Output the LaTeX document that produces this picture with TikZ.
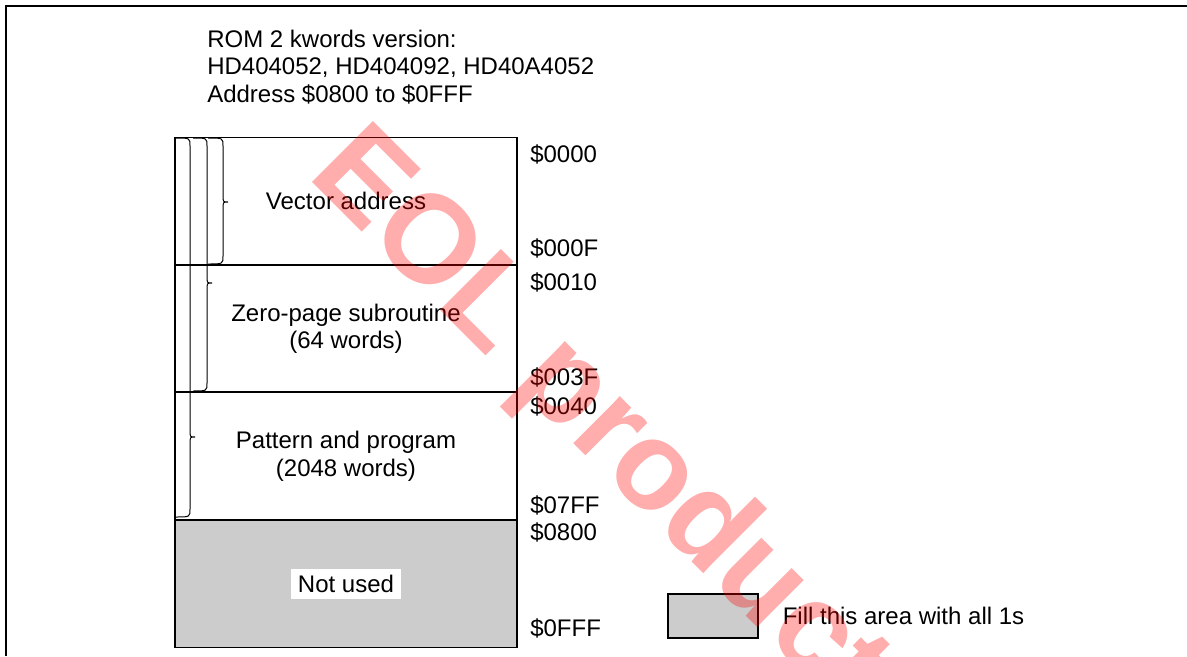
\documentclass[tikz,border=0pt]{standalone}
\usepackage{fontspec}
\setmainfont{Liberation Sans}
\usepackage{tikz}
\usetikzlibrary{positioning}
\definecolor{unused}{RGB}{204,204,204}
\definecolor{eol}{RGB}{255,0,0}

\begin{document}
\begin{tikzpicture}[x=0.75pt,y=-0.75pt,every node/.style={font=\fontsize{18}{20.5}\selectfont,inner sep=0pt},
  sect/.style={draw,line width=0.8pt,minimum width=256.5pt,minimum height=94.9pt,align=center},
  addr/.style={anchor=west},
  brace/.style={line width=0.75pt}]
\useasboundingbox (0,0) rectangle (1187,656);
% frame
\draw[line width=1.5pt] (6,656) -- (6,6) -- (1187,6);
% header
\node[anchor=north west,align=left] (head) at (207,30) {ROM 2 kwords version:\\HD404052, HD404092, HD40A4052\\Address \$0800 to \$0FFF};
% memory map
\node[sect] (vec) at (346,201) {\raisebox{-3pt}{Vector address}};
\node[sect,below=0pt of vec] (zero) {Zero-page subroutine\\(64 words)};
\node[sect,below=0pt of zero] (pat) {Pattern and program\\(2048 words)};
\node[sect,fill=unused,below=0pt of pat] (free) {};
\node[fill=white,inner xsep=5pt,minimum height=22.5pt] (freelbl) at (free) {Not used};
% addresses
\node[addr] (a0000) at (530,154) {\$0000};
\node[addr] (a000F) at (530,248) {\$000F};
\node[addr] (a0010) at (530,282) {\$0010};
\node[addr] (a003F) at (530,377) {\$003F};
\node[addr] (a0040) at (530,406) {\$0040};
\node[addr] (a07FF) at (530,505) {\$07FF};
\node[addr] (a0800) at (530,532) {\$0800};
\node[addr] (a0FFF) at (530,628) {\$0FFF};
% braces
\draw[brace] (176,138) .. controls (190,138) .. (190,146) -- (190,430) .. controls (190,437) .. (195,437) .. controls (190,437) .. (190,444) -- (190,509) .. controls (190,517) .. (176,517);
\draw[brace] (193,138) .. controls (207,138) .. (207,146) -- (207,276) .. controls (207,283) .. (212,283) .. controls (207,283) .. (207,290) -- (207,383) .. controls (207,391) .. (193,391);
\draw[brace] (208,138) .. controls (223,138) .. (223,146) -- (223,195) .. controls (223,202) .. (228,202) .. controls (223,202) .. (223,209) -- (223,256) .. controls (223,264) .. (208,264);
% legend
\node[draw,line width=0.8pt,fill=unused,minimum width=67.5pt,minimum height=33pt] (key) at (713,616) {};
\node[right=18pt of key] (keytxt) {Fill this area with all 1s};
% watermark
\node[text=eol,opacity=.32,rotate=-45,anchor=base west,font=\fontsize{94}{94}\selectfont\bfseries] (wm) at (306,176) {EOL products};
\end{tikzpicture}
\end{document}
